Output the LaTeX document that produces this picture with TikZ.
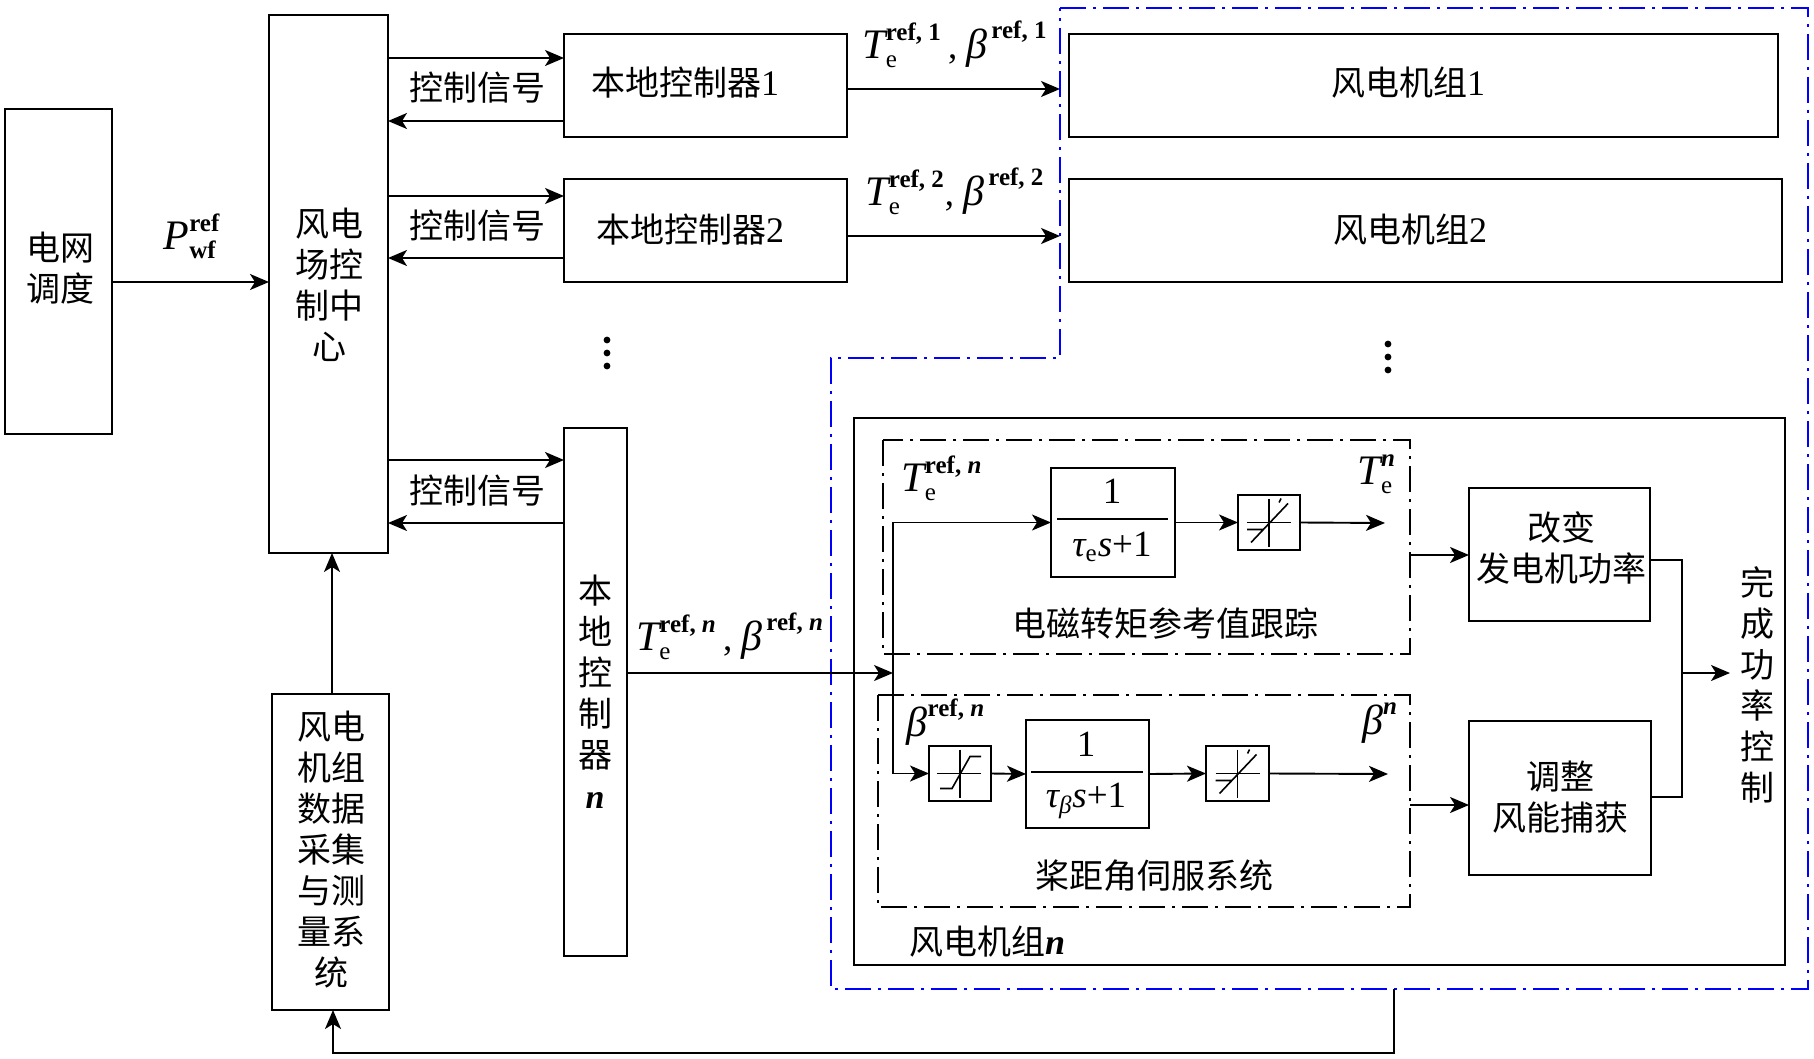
\documentclass[tikz,border=0pt]{standalone}
\usepackage{amsmath}
\usepackage{fontspec}
\setmainfont{Liberation Serif}
\newfontfamily\cjk{Noto Sans CJK SC}
\usetikzlibrary{arrows.meta,calc}
\DeclareMathSizes{18.5}{18.5}{12.5}{9}
\newcommand{\mi}[1]{\textit{#1}}
\newcommand{\bigv}[1]{\text{\fontsize{21}{22}\selectfont\itshape #1}}
\newcommand{\sups}[1]{\text{\bfseries #1}}
\newcommand{\boxat}[5]{% name, x1, y1, x2, y2
  \pgfmathsetmacro{\bw}{(#4-#2)*0.5}\pgfmathsetmacro{\bh}{(#5-#3)*0.5}
  \node[blockbox,minimum width=\bw pt,minimum height=\bh pt] (#1) at ({(#2+#4)/2},{(#3+#5)/2}) {};}
\tikzset{
  x=0.5pt,y=-0.5pt,
  line/.style={line width=0.95pt,draw=black},
  arr/.style={line,-{Stealth[length=9.5pt,width=8pt,inset=2.5pt]}},
  blockbox/.style={line,inner sep=0pt,outer sep=0pt,fill=none},
  lab/.style={inner sep=0pt,outer sep=0pt,align=center,font=\fontsize{17}{20.5}\selectfont\cjk},
  mlab/.style={inner sep=0pt,outer sep=0pt,font=\fontsize{18.5}{22}\selectfont},
  dashdot/.style={line width=0.85pt,dash pattern=on 13pt off 3.5pt on 1.5pt off 3.5pt},
  bluedash/.style={dashdot,draw=blue,line width=0.95pt},
  satcross/.pic={
    \draw[line,line width=0.8pt] (-22,0)--(22,0) (0,-24)--(0,24);
    \draw[line,line width=0.8pt] (-18,20)--(19,-19) (-22,7)--(-6,7) (12,-24)--(10,-20);
  },
  limiter/.pic={
    \draw[line,line width=0.8pt] (-23,0)--(21,0) (0,-24)--(0,24);
    \draw[line,line width=0.8pt] (-20,15)--(-8,15)--(10,-17)--(21,-17);
  },
}
\begin{document}
\begin{tikzpicture}
\useasboundingbox (0,0) rectangle (1814,1059);
% boxes of the supervisory level
\boxat{grid}{5}{109}{112}{434}
\boxat{center}{269}{15}{388}{553}
\boxat{data}{272}{694}{389}{1010}
\boxat{locA}{564}{34}{847}{137}
\boxat{locB}{564}{179}{847}{282}
\boxat{locN}{564}{428}{627}{956}
\boxat{wtA}{1069}{34}{1778}{137}
\boxat{wtB}{1069}{179}{1782}{282}
\boxat{wtN}{854}{418}{1785}{965}
% wind turbine n internals
\boxat{tb}{1051}{468}{1175}{577}
\boxat{tsat}{1238}{495}{1300}{550}
\boxat{plim}{929}{746}{991}{801}
\boxat{pb}{1026}{720}{1149}{828}
\boxat{psat}{1206}{746}{1269}{801}
\boxat{power}{1469}{488}{1650}{621}
\boxat{capture}{1469}{721}{1651}{875}
\pic at (tsat) {satcross};
\pic at (psat) {satcross};
\pic at (plim) {limiter};
\draw[line] (1057,519)--(1168,519) (1031,772)--(1143,772);
% dash-dotted groups
\draw[dashdot] (883,440) rectangle (1410,654);
\draw[dashdot] (878,695) rectangle (1410,907);
\draw[bluedash] (1060,8)--(1808,8)--(1808,989)--(831,989)--(831,358)--(1060,358)--cycle;
% free connector ends
\coordinate (split) at (893,673);
\coordinate (tout) at (1385,523);
\coordinate (pout) at (1388,774);
\coordinate (tgrp) at (1410,555);
\coordinate (pgrp) at (1410,805);
\coordinate (merge) at (1682,673);
\coordinate (finish) at (1730,673);
\coordinate (edgeA) at (1060,89);
\coordinate (edgeB) at (1060,236);
\coordinate (fbstart) at (1394,989);
% connectors
\draw[arr] (grid.east |- 0,282) -- (center.west |- 0,282);
\draw[arr] (data.north -| 332,0) -- (center.south -| 332,0);
\draw[arr] (center.east |- 0,58) -- (locA.west |- 0,58);
\draw[arr] (locA.west |- 0,121) -- (center.east |- 0,121);
\draw[arr] (center.east |- 0,196) -- (locB.west |- 0,196);
\draw[arr] (locB.west |- 0,258) -- (center.east |- 0,258);
\draw[arr] (center.east |- 0,460) -- (locN.west |- 0,460);
\draw[arr] (locN.west |- 0,523) -- (center.east |- 0,523);
\draw[arr] (locA.east |- edgeA) -- (edgeA);
\draw[arr] (locB.east |- edgeB) -- (edgeB);
\draw[arr] (locN.east |- split) -- (split);
\draw[arr] (split) |- (tb.west);
\draw[arr] (split) |- (plim.west);
\draw[arr] (tb.east) -- (tsat.west);
\draw[arr] (tsat.east) -- (tout);
\draw[arr] (plim.east) -- (pb.west);
\draw[arr] (pb.east) -- (psat.west);
\draw[arr] (psat.east) -- (pout);
\draw[arr] (tgrp) -- (power.west |- tgrp);
\draw[arr] (pgrp) -- (capture.west |- pgrp);
\draw[line] (power.east |- 0,560) -| (merge);
\draw[line] (capture.east |- 0,797) -| (merge);
\draw[arr] (merge) -- (finish);
\draw[arr] (fbstart) |- (333,1053) -- (data.south -| 333,0);
% stacked captions
\node[lab] (tgrid) at (60,268) {电网\\调度};
\node[lab] (tcenter) at (329,285) {风电\\场控\\制中\\心};
\node[lab] (tdata) at (331,850) {风电\\机组\\数据\\采集\\与测\\量系\\统};
\node[lab] (tlocn) at (595,692) {本\\地\\控\\制\\器\\{\fontsize{17}{20}\selectfont\itshape\rmfamily\bfseries n}};
\node[lab] (tdone) at (1757,685) {完\\成\\功\\率\\控\\制};
% captions
\node[lab] (sigA) at (477,88) {控制信号};
\node[lab] (sigB) at (477,226) {控制信号};
\node[lab] (sigN) at (477,491) {控制信号};
\node[lab] (tlocA) at (685,83) {本地控制器{\rmfamily\fontsize{18}{20}\selectfont 1}};
\node[lab] (tlocB) at (690,230) {本地控制器{\rmfamily\fontsize{18}{20}\selectfont 2}};
\node[lab] (twtA) at (1408,83) {风电机组{\rmfamily\fontsize{18}{20}\selectfont 1}};
\node[lab] (twtB) at (1410,230) {风电机组{\rmfamily\fontsize{18}{20}\selectfont 2}};
\node[lab] (twtN) at (987,942) {风电机组{\rmfamily\fontsize{18}{20}\selectfont\itshape\bfseries n}};
\node[lab] (ttrack) at (1165,624) {电磁转矩参考值跟踪};
\node[lab] (tservo) at (1154,876) {桨距角伺服系统};
\node[lab] (tpower) at (1561,548) {改变\\发电机功率};
\node[lab] (tcapture) at (1560,797) {调整\\风能捕获};
% formulas
\node[mlab] (fP) at (192,236) {$\bigv{P}_{\sups{wf}}^{\sups{ref}}$};
\node[mlab] (fA) at (955,44) {$\bigv{T}_{\text{e}}^{\sups{ref, 1}}$\,, $\bigv{β}^{\,\sups{ref, 1}}$};
\node[mlab] (fB) at (955,191) {$\bigv{T}_{\text{e}}^{\sups{ref, 2}}$, $\bigv{β}^{\,\sups{ref, 2}}$};
\node[mlab] (fN) at (730,636) {$\bigv{T}_{\text{e}}^{\sups{ref, \mi{n}}}$\,, $\bigv{β}^{\,\sups{ref, \mi{n}}}$};
\node[mlab] (fTr) at (942,478) {$\bigv{T}_{\text{e}}^{\sups{ref, \mi{n}}}$};
\node[mlab] (fBr) at (946,722) {$\bigv{β}^{\sups{ref, \mi{n}}}$};
\node[mlab] (fTo) at (1377,474) {$\bigv{T}_{\text{e}}^{\sups{\mi{n}}}$};
\node[mlab] (fBo) at (1380,723) {$\bigv{β}^{\sups{\mi{n}}}$};
\node[mlab] (one1) at (1112,491) {1};
\node[mlab] (den1) at (1112,547) {$\mi{τ}_{\text{e}}\mi{s}\text{+1}$};
\node[mlab] (one2) at (1086,744) {1};
\node[mlab] (den2) at (1086,801) {$\mi{τ}_{\mi{β}}\mi{s}\text{+1}$};
% ellipsis dots
\foreach \yy in {340,353,366} {
  \fill (607,\yy) circle (1.7pt);
  \fill (1388,\yy+4) circle (1.7pt);
}
\end{tikzpicture}
\end{document}
